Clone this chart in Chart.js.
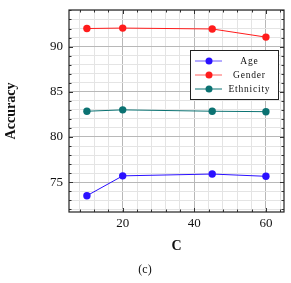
<!DOCTYPE html>
<html>
<head>
<meta charset="utf-8">
<script src="https://cdn.jsdelivr.net/npm/chart.js@4"></script>
<style>
  html, body { margin: 0; padding: 0; background: #fff; }
  #wrap { width: 291px; height: 283px; position: relative; }
</style>
</head>
<body>
<div id="wrap"><canvas id="accChart"></canvas></div>
<script>
// chart data
const cValues = [10, 20, 45, 60];
const ageAcc = [73.5, 75.7, 75.9, 75.65];
const genderAcc = [92.0, 92.05, 91.95, 91.05];
const ethnicityAcc = [82.85, 83.0, 82.85, 82.8];
const seriesNames = ['Age', 'Gender', 'Ethnicity'];
const seriesColors = ['#2a10ff', '#ff1c1c', '#0b7272'];

const serif = "'Liberation Serif', 'DejaVu Serif', serif";

function toPoints(ys) {
    return cValues.map((x, i) => ({ x: x, y: ys[i] }));
}

// box, inward ticks on all sides, legend and caption
const framePlugin = {
    id: 'frame',
    afterDraw(chart) {
        const ctx = chart.ctx;
        const a = chart.chartArea;
        const xs = chart.scales.x;
        const ys = chart.scales.y;
        ctx.save();
        ctx.strokeStyle = '#333';
        ctx.lineWidth = 1;
        xs.ticks.forEach(t => {
            const px = Math.round(xs.getPixelForValue(t.value)) + 0.5;
            const len = t.value % 20 === 0 ? 4 : 2.5;
            ctx.beginPath();
            ctx.moveTo(px, a.bottom); ctx.lineTo(px, a.bottom - len);
            ctx.moveTo(px, a.top); ctx.lineTo(px, a.top + len);
            ctx.stroke();
        });
        ys.ticks.forEach(t => {
            const py = Math.round(ys.getPixelForValue(t.value)) + 0.5;
            const len = t.value % 5 === 0 ? 4 : 2.5;
            ctx.beginPath();
            ctx.moveTo(a.left, py); ctx.lineTo(a.left + len, py);
            ctx.moveTo(a.right, py); ctx.lineTo(a.right - len, py);
            ctx.stroke();
        });
        ctx.strokeStyle = '#222';
        ctx.lineWidth = 1.2;
        ctx.strokeRect(a.left, a.top, a.right - a.left, a.bottom - a.top);

        // legend
        const lx = 190, ly = 50, lw = 88, lh = 49;
        ctx.fillStyle = '#fff';
        ctx.fillRect(lx, ly, lw, lh);
        ctx.strokeStyle = '#222';
        ctx.lineWidth = 1;
        ctx.strokeRect(lx + 0.5, ly + 0.5, lw, lh);
        ctx.font = '9.5px ' + serif;
        ctx.textAlign = 'center';
        ctx.textBaseline = 'middle';
        seriesNames.forEach((name, i) => {
            const cy = ly + 11 + i * 14;
            ctx.strokeStyle = seriesColors[i];
            ctx.globalAlpha = i === 2 ? 1 : 0.7;
            ctx.lineWidth = 1;
            ctx.beginPath();
            ctx.moveTo(lx + 5, cy); ctx.lineTo(lx + 32, cy);
            ctx.stroke();
            ctx.globalAlpha = 1;
            ctx.fillStyle = seriesColors[i];
            ctx.beginPath();
            ctx.arc(lx + 19, cy, 3.5, 0, Math.PI * 2);
            ctx.fill();
            ctx.fillStyle = '#111';
            ctx.fillText(name.split('').join(String.fromCharCode(8202)), lx + 59, cy);
        });

        // caption
        ctx.font = '12px ' + serif;
        ctx.fillStyle = '#111';
        ctx.fillText('(c)', 145, 270);
        ctx.restore();
    }
};

const makeSet = (label, ys, i) => ({
    label: label,
    data: toPoints(ys),
    borderColor: seriesColors[i],
    backgroundColor: seriesColors[i],
    borderWidth: 1,
    pointRadius: 3.7,
    pointHoverRadius: 3.7,
    pointBorderWidth: 0,
    showLine: true,
    tension: 0
});

new Chart(document.getElementById('accChart').getContext('2d'), {
    type: 'scatter',
    data: {
        datasets: [
            makeSet('Age', ageAcc, 0),
            makeSet('Gender', genderAcc, 1),
            makeSet('Ethnicity', ethnicityAcc, 2)
        ]
    },
    options: {
        responsive: true,
        maintainAspectRatio: false,
        animation: false,
        layout: { padding: { top: 10, right: 7, left: 0, bottom: 0 } },
        plugins: {
            legend: { display: false },
            tooltip: { enabled: false }
        },
        scales: {
            x: {
                type: 'linear',
                min: 5,
                max: 65.05,
                border: { display: false },
                grid: {
                    drawTicks: false,
                    color: c => (c.tick && c.tick.value % 20 === 0) ? '#b8b8b8' : '#e4e4e4',
                    lineWidth: 1
                },
                ticks: {
                    stepSize: 4,
                    includeBounds: false,
                    autoSkip: false,
                    maxRotation: 0,
                    padding: 4,
                    color: '#111',
                    font: { family: serif, size: 13 },
                    callback: v => (v % 20 === 0 ? v : '')
                },
                title: {
                    display: true,
                    text: 'C',
                    color: '#111',
                    font: { family: serif, size: 14, weight: 'bold' },
                    padding: { top: 0, bottom: 28 }
                },
                afterFit: s => { s.height = 71; s.paddingLeft = 0; s.paddingRight = 0; }
            },
            y: {
                type: 'linear',
                min: 71.7,
                max: 94.05,
                border: { display: false },
                grid: {
                    drawTicks: false,
                    color: c => (c.tick && c.tick.value % 5 === 0) ? '#b8b8b8' : '#e4e4e4',
                    lineWidth: 1
                },
                ticks: {
                    stepSize: 1,
                    includeBounds: false,
                    autoSkip: false,
                    padding: 6,
                    color: '#111',
                    font: { family: serif, size: 13 },
                    callback: v => (v % 5 === 0 ? v : '')
                },
                title: {
                    display: true,
                    text: 'Accuracy',
                    color: '#111',
                    font: { family: serif, size: 14, weight: 'bold' },
                    padding: { top: 3, bottom: 7 }
                },
                afterFit: s => { s.width = 69; s.paddingTop = 0; s.paddingBottom = 0; }
            }
        }
    },
    plugins: [framePlugin]
});
</script>
</body>
</html>
